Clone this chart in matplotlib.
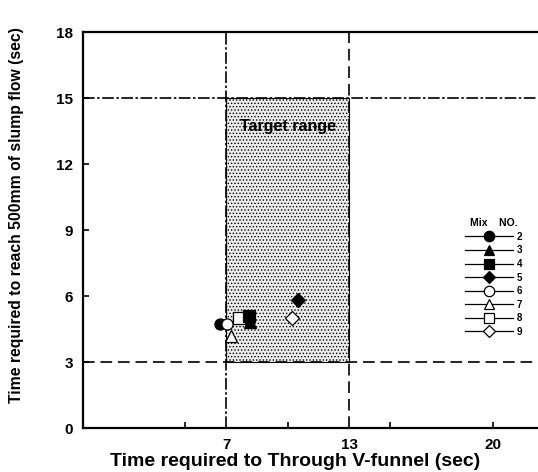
import matplotlib
matplotlib.use("Agg")
import matplotlib.pyplot as plt
from matplotlib.lines import Line2D
from matplotlib.patches import Rectangle

plt.rcParams['font.family'] = ['Liberation Sans', 'DejaVu Sans']
plt.rcParams['font.weight'] = 'bold'
plt.rcParams['hatch.color'] = '#9a9a9a'
plt.rcParams['hatch.linewidth'] = 0.6

# Mix numbers and their test results
mix_no = ['2', '3', '4', '5', '6', '7', '8', '9']
vfunnel_time = [6.7, 8.15, 8.1, 10.5, 7.05, 7.25, 7.65, 10.2]
slump500_time = [4.73, 4.8, 5.1, 5.82, 4.73, 4.2, 5.0, 5.0]
markers = ['o', '^', 's', 'D', 'o', '^', 's', 'D']
filled = [True, True, True, True, False, False, False, False]
sizes = [8, 8, 8, 7, 8, 8, 8, 7]
draw_order = ['2', '6', '7', '8', '3', '4', '5', '9']

# Target range limits
vf_low, vf_high = 7, 13
sf_low, sf_high = 3, 15

y_ticks = [0, 3, 6, 9, 12, 15, 18]
x_ticks = [5, 10, 15, 20]
x_tick_labels = ['', '', '', '20']
x_marked = [7, 13]

fig = plt.figure(figsize=(5.38, 4.72), dpi=100)
ax = fig.add_axes([82.5 / 538, 44 / 472, 461.5 / 538, 396 / 472])

ax.set_xlim(0, 22.5)
ax.set_ylim(0, 18)

# shaded target region
ax.add_patch(Rectangle((vf_low, sf_low), vf_high - vf_low, sf_high - sf_low,
                       facecolor='#ececec', edgecolor='black', linewidth=0.8,
                       hatch='.....', zorder=1))
ax.text((vf_low + vf_high) / 2, 13.7, 'Target range', ha='center', va='center',
        fontsize=11.5, fontweight='bold', zorder=3)

# limit lines
ax.axhline(sf_high, color='black', lw=1.2, ls=(0, (7, 1.5, 1.5, 1.5)), zorder=2)
ax.axvline(vf_low, color='black', lw=1.2, ls=(0, (7, 1.5, 1.5, 1.5)), zorder=2)
ax.axhline(sf_low, color='black', lw=1.2, ls=(0, (7, 3.5)), zorder=2)
ax.axvline(vf_high, color='black', lw=1.2, ls=(0, (7, 3.5)), zorder=2)

handles = []
for xv, yv, m, f, s, lab in zip(vfunnel_time, slump500_time, markers, filled, sizes, mix_no):
    fc = 'black' if f else 'white'
    ax.plot([xv], [yv], marker=m, ms=s, mfc=fc, mec='black', mew=0.9,
            ls='none', zorder=5 + draw_order.index(lab) * 0.1)
    handles.append(Line2D([0], [0], marker=m, ms=s - 0.5, mfc=fc, mec='black',
                          mew=0.9, color='black', lw=0.9, label=lab))

leg = ax.legend(handles=handles, title='Mix    NO.', frameon=False,
                loc='upper left', bbox_to_anchor=(0.829, 0.53),
                fontsize=7, title_fontsize=7.5, handlelength=4.9,
                labelspacing=0.37, handletextpad=0.4, borderaxespad=0,
                borderpad=0)
for t in leg.get_texts():
    t.set_fontweight('bold')
leg.get_title().set_fontweight('bold')

ax.set_yticks(y_ticks)
ax.set_yticklabels([str(v) for v in y_ticks], fontsize=11, fontweight='bold')
ax.set_xticks(x_ticks)
ax.set_xticklabels(x_tick_labels, fontsize=11, fontweight='bold')
ax.set_xticks(x_marked, minor=True)
ax.set_xticklabels([str(v) for v in x_marked], minor=True, fontsize=11,
                   fontweight='bold')
ax.tick_params(axis='both', which='major', direction='in', length=4, width=1.2,
               pad=7)
ax.tick_params(axis='x', which='minor', length=0, pad=7.5)
ax.tick_params(axis='x', which='major', pad=7.5)

for sp in ax.spines.values():
    sp.set_linewidth(1.6)

ax.set_xlabel('Time required to Through V-funnel (sec)', fontsize=14,
              fontweight='bold')
ax.xaxis.set_label_coords(0.46, -0.063)
ax.set_ylabel('Time required to reach 500mm of slump flow (sec)', fontsize=11.3,
              fontweight='bold')
ax.yaxis.set_label_coords(-0.127, 0.538)

fig.savefig('out.png', dpi=100)
